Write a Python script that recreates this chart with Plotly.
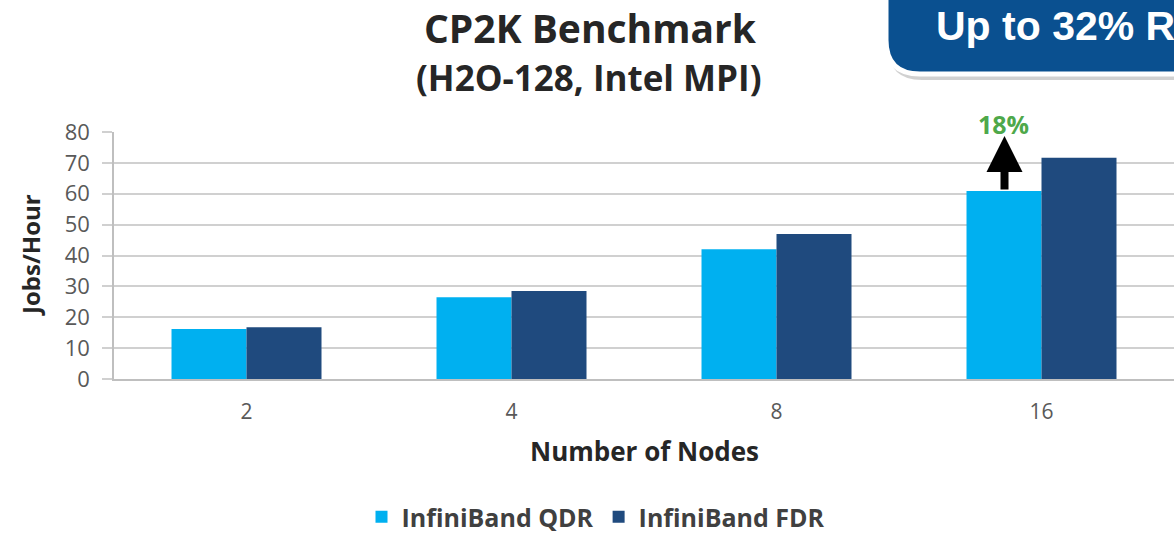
import plotly.graph_objects as go

categories = ["2", "4", "8", "16"]
qdr = [16.2, 26.5, 42.0, 60.9]
fdr = [16.8, 28.5, 47.0, 71.7]
y_ticks = [0, 10, 20, 30, 40, 50, 60, 70, 80]
gain_label = "18%"

W, H = 1174, 536
L, R, T, B = 114, 0, 132, 157
PW = W - L - R
PH = H - T - B


def px2x(px):
    return (px - L) / PW


def px2y(py):
    return (H - B - py) / PH


fig = go.Figure()
fig.add_trace(go.Bar(name="InfiniBand QDR", x=categories, y=qdr,
                     marker=dict(color="#00B0F0", line=dict(width=0))))
fig.add_trace(go.Bar(name="InfiniBand FDR", x=categories, y=fdr,
                     marker=dict(color="#1F4A7E", line=dict(width=0))))

font_main = "Open Sans, Lato, DejaVu Sans, sans-serif"

fig.update_layout(
    width=W, height=H,
    margin=dict(l=L, r=R, t=T, b=B, autoexpand=False),
    paper_bgcolor="white", plot_bgcolor="white",
    barmode="group", bargap=0.434, bargroupgap=0,
    font=dict(family=font_main, color="#595959"),
    showlegend=True,
    legend=dict(orientation="h", x=px2x(596), xanchor="center",
                y=px2y(517), yanchor="middle",
                font=dict(size=25, color="#404040", family=font_main, weight="bold"),
                tracegroupgap=0),
    xaxis=dict(type="category", range=[-0.5, len(categories) - 0.5],
               autorange=False, showgrid=False, showline=True,
               linecolor="#BFBFBF", linewidth=1.5, ticks="",
               tickfont=dict(size=21, color="#595959"), ticklabelstandoff=13),
    yaxis=dict(range=[0, 80], autorange=False, tickvals=y_ticks, showgrid=True,
               gridcolor="#D0D0D0", gridwidth=1.5, showline=True,
               linecolor="#BFBFBF", linewidth=1.5, ticks="outside",
               ticklen=10, tickcolor="#D0D0D0", tickwidth=1.5,
               tickfont=dict(size=22, color="#595959"), zeroline=False,
               ticklabelstandoff=8),
)


def label(text, px, py, size, color="#262626", angle=0, family=font_main):
    fig.add_annotation(text=text, xref="paper", yref="paper",
                       x=px2x(px), y=px2y(py), xanchor="center", yanchor="middle",
                       showarrow=False, textangle=angle,
                       font=dict(size=size, color=color, family=family))


# Titles
label("<b>CP2K Benchmark</b>", 590, 27, 39)
label("<b>(H2O-128, Intel MPI)</b>", 589, 78, 35)
label("<b>Jobs/Hour</b>", 30, 255, 24, angle=-90)
label("<b>Number of Nodes</b>", 644, 451, 26)

# Arrow + gain label on the 16-node QDR bar
idx16 = categories.index("16")
fig.add_annotation(x=idx16, y=qdr[idx16], xref="x", yref="y",
                   ax=0, ay=55, text="", showarrow=True, startstandoff=0,
                   arrowhead=2, arrowsize=0.9, arrowwidth=8, arrowcolor="black",
                   xshift=-37, yshift=55)
fig.add_annotation(x=idx16, y=qdr[idx16], xref="x", yref="y",
                   text="<b>" + gain_label + "</b>", showarrow=False,
                   xanchor="center", yanchor="middle",
                   xshift=-38, yshift=67,
                   font=dict(size=25, color="#4EA84A", family=font_main))


# Badge in the top-right corner
def badge_path(x0, y0, r, dx=0, dy=0):
    xl = px2x(x0 + dx)
    xr = px2x(1250 + dx)
    yt = px2y(-40 + dy)
    yb = px2y(y0 + dy)
    yc = px2y(y0 - r + dy)
    xc = px2x(x0 + r + dx)
    return (f"M {xl},{yt} L {xl},{yc} Q {xl},{yb} {xc},{yb} "
            f"L {xr},{yb} L {xr},{yt} Z")


fig.add_shape(type="path", xref="paper", yref="paper",
              path=badge_path(886, 74, 34, dx=2, dy=6),
              fillcolor="rgba(0,0,0,0.18)", line=dict(width=0), layer="above")
fig.add_shape(type="path", xref="paper", yref="paper",
              path=badge_path(886, 74, 34),
              fillcolor="#0A5090", line=dict(color="white", width=5), layer="above")
fig.add_annotation(text="<b>Up to 32% R</b>", xref="paper", yref="paper",
                   x=px2x(934), y=px2y(26), xanchor="left", yanchor="middle",
                   showarrow=False,
                   font=dict(size=41, color="white", family="Liberation Sans, Arial, sans-serif"))

fig.write_html("out.html", config={"displayModeBar": False},
               post_script="document.body.style.margin='0';document.body.style.overflow='hidden';")
